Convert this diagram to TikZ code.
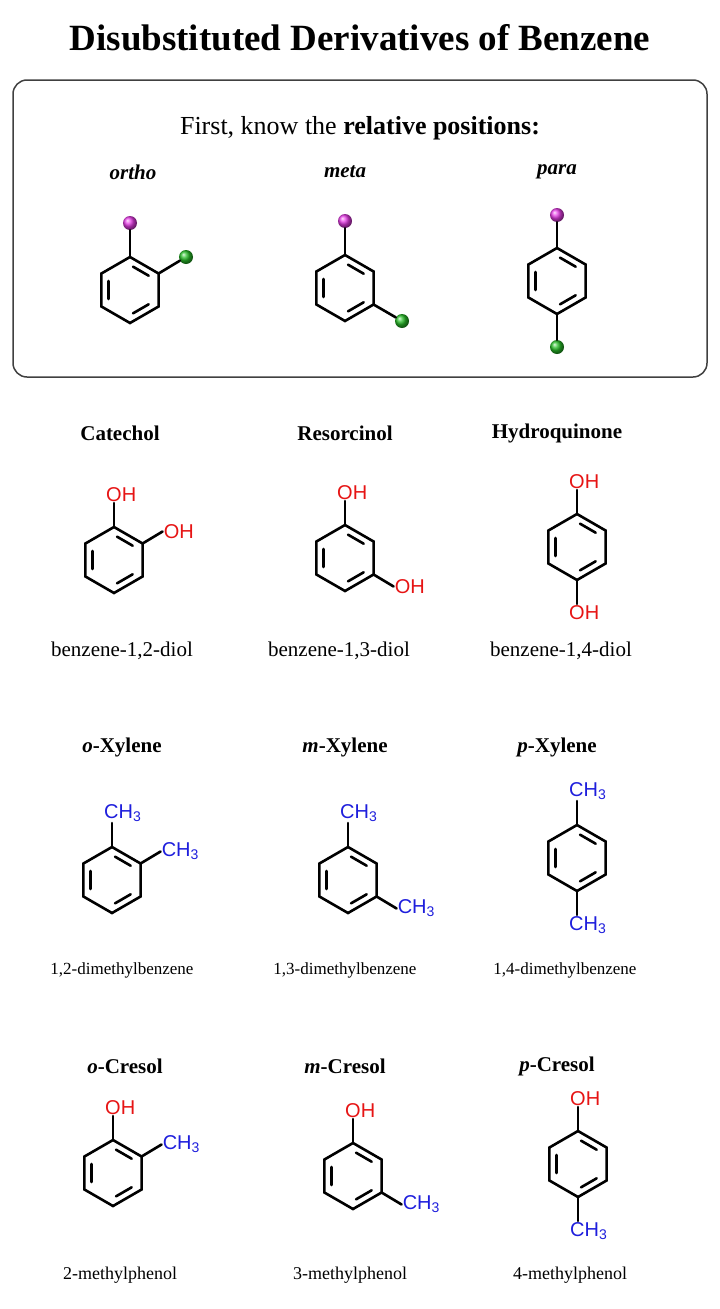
\documentclass[tikz,border=0pt]{standalone}
\usepackage{fontspec}
\setmainfont{Liberation Serif}
\newfontfamily\chemfont{Liberation Sans}
\usetikzlibrary{calc}

\definecolor{ohred}{RGB}{230,20,20}
\definecolor{meblue}{RGB}{30,30,220}
\definecolor{pinkball}{RGB}{230,60,230}
\definecolor{greenball}{RGB}{40,190,40}

\tikzset{
	bond/.style={line width=2.6pt, line cap=round, black},
	heading/.style={font=\fontsize{21}{24}\selectfont\bfseries},
	iupac/.style={font=\fontsize{21}{24}\selectfont},
	iupacsmall/.style={font=\fontsize{17}{20}\selectfont},
	ohlabel/.style={font=\chemfont\fontsize{20}{22}\selectfont, text=ohred, inner sep=1pt},
	melabel/.style={font=\chemfont\fontsize{20}{22}\selectfont, text=meblue, inner sep=1pt},
	pinkatom/.style={circle, ball color=pinkball, minimum size=14pt, inner sep=0pt},
	greenatom/.style={circle, ball color=greenball, minimum size=14pt, inner sep=0pt},
}

% benzene ring: name, x, y
\newcommand{\ring}[3]{
	\coordinate (#1) at (#2,#3);
	\foreach \k/\a in {1/90,2/30,3/-30,4/-90,5/-150,6/150}
		\coordinate (#1-\k) at ($(#1)+({33*cos(\a)},{-33*sin(\a)})$);
	\draw[bond] (#1-1) -- (#1-2) -- (#1-3) -- (#1-4) -- (#1-5) -- (#1-6) -- cycle;
	\foreach \p/\q in {1/2,3/4,5/6}
		\draw[bond] ($($(#1)!0.76!(#1-\p)$)!0.14!($(#1)!0.76!(#1-\q)$)$)
			-- ($($(#1)!0.76!(#1-\q)$)!0.14!($(#1)!0.76!(#1-\p)$)$);
	% bond ends: top, upper right, lower right, bottom
	\coordinate (#1-t) at ($(#1-1)+(0,-24)$);
	\coordinate (#1-ur) at ($(#1-2)+(20,-12)$);
	\coordinate (#1-lr) at ($(#1-3)+(20,12)$);
	\coordinate (#1-b) at ($(#1-4)+(0,24)$);
}

\begin{document}
\begin{tikzpicture}[x=1pt,y=-1pt]
	\useasboundingbox (0,0) rectangle (720,1309);

	\node[font=\fontsize{37}{40}\selectfont\bfseries] (title) at (360,38) {Disubstituted Derivatives of Benzene};

	\draw[line width=1.5pt, rounded corners=14pt, black!75] (13,80) rectangle (707,377);
	\node[font=\fontsize{26}{30}\selectfont] (intro) at (360,128) {First, know the \textbf{relative positions:}};

	\node[heading] (ortho) at (133,172) {\itshape ortho};
	\node[heading] (meta) at (345,172) {\itshape meta};
	\node[heading] (para) at (557,172) {\itshape para};

	% relative positions
	\ring{ro}{130}{290}
	\node[pinkatom] (ro-a) at (130,223) {};
	\node[greenatom] (ro-b) at (186,257) {};
	\draw[bond] (ro-1) -- (ro-a); \draw[bond] (ro-2) -- (ro-b);

	\ring{rm}{345}{288}
	\node[pinkatom] (rm-a) at (345,221) {};
	\node[greenatom] (rm-b) at (402,321) {};
	\draw[bond] (rm-1) -- (rm-a); \draw[bond] (rm-3) -- (rm-b);

	\ring{rp}{557}{281}
	\node[pinkatom] (rp-a) at (557,215) {};
	\node[greenatom] (rp-b) at (557,347) {};
	\draw[bond] (rp-1) -- (rp-a); \draw[bond] (rp-4) -- (rp-b);

	% diols
	\node[heading] (catechol) at (120,433) {Catechol};
	\node[heading] (resorcinol) at (345,433) {Resorcinol};
	\node[heading] (hydroquinone) at (557,433) {Hydroquinone};

	\ring{cat}{114}{560}
	\node[ohlabel, anchor=south west] (cat-oh1) at ($(cat-t)+(-9,0)$) {OH};
	\node[ohlabel, anchor=west] (cat-oh2) at (cat-ur) {OH};
	\draw[bond] (cat-1) -- (cat-t); \draw[bond] (cat-2) -- (cat-ur);

	\ring{res}{345}{558}
	\node[ohlabel, anchor=south west] (res-oh1) at ($(res-t)+(-9,0)$) {OH};
	\node[ohlabel, anchor=west] (res-oh2) at (res-lr) {OH};
	\draw[bond] (res-1) -- (res-t); \draw[bond] (res-3) -- (res-lr);

	\ring{hyd}{577}{547}
	\node[ohlabel, anchor=south west] (hyd-oh1) at ($(hyd-t)+(-9,0)$) {OH};
	\node[ohlabel, anchor=north west] (hyd-oh2) at ($(hyd-b)+(-9,0)$) {OH};
	\draw[bond] (hyd-1) -- (hyd-t); \draw[bond] (hyd-4) -- (hyd-b);

	\node[iupac] (cat-name) at (122,651) {benzene-1,2-diol};
	\node[iupac] (res-name) at (339,651) {benzene-1,3-diol};
	\node[iupac] (hyd-name) at (561,651) {benzene-1,4-diol};

	% xylenes
	\node[heading] (ox) at (122,747) {\itshape o\upshape-Xylene};
	\node[heading] (mx) at (345,747) {\itshape m\upshape-Xylene};
	\node[heading] (px) at (557,747) {\itshape p\upshape-Xylene};

	\ring{oxy}{112}{880}
	\node[melabel, anchor=south west] (oxy-me1) at ($(oxy-t)+(-9,0)$) {CH\textsubscript{3}};
	\node[melabel, anchor=west] (oxy-me2) at (oxy-ur) {CH\textsubscript{3}};
	\draw[bond] (oxy-1) -- (oxy-t); \draw[bond] (oxy-2) -- (oxy-ur);

	\ring{mxy}{348}{880}
	\node[melabel, anchor=south west] (mxy-me1) at ($(mxy-t)+(-9,0)$) {CH\textsubscript{3}};
	\node[melabel, anchor=west] (mxy-me2) at (mxy-lr) {CH\textsubscript{3}};
	\draw[bond] (mxy-1) -- (mxy-t); \draw[bond] (mxy-3) -- (mxy-lr);

	\ring{pxy}{577}{858}
	\node[melabel, anchor=south west] (pxy-me1) at ($(pxy-t)+(-9,0)$) {CH\textsubscript{3}};
	\node[melabel, anchor=north west] (pxy-me2) at ($(pxy-b)+(-9,0)$) {CH\textsubscript{3}};
	\draw[bond] (pxy-1) -- (pxy-t); \draw[bond] (pxy-4) -- (pxy-b);

	\node[iupacsmall] (oxy-name) at (122,970) {1,2-dimethylbenzene};
	\node[iupacsmall] (mxy-name) at (345,970) {1,3-dimethylbenzene};
	\node[iupacsmall] (pxy-name) at (565,970) {1,4-dimethylbenzene};

	% cresols
	\node[heading] (oc) at (125,1066) {\itshape o\upshape-Cresol};
	\node[heading] (mc) at (345,1066) {\itshape m\upshape-Cresol};
	\node[heading] (pc) at (557,1066) {\itshape p\upshape-Cresol};

	\ring{ocr}{113}{1173}
	\node[ohlabel, anchor=south west] (ocr-oh) at ($(ocr-t)+(-9,0)$) {OH};
	\node[melabel, anchor=west] (ocr-me) at (ocr-ur) {CH\textsubscript{3}};
	\draw[bond] (ocr-1) -- (ocr-t); \draw[bond] (ocr-2) -- (ocr-ur);

	\ring{mcr}{353}{1176}
	\node[ohlabel, anchor=south west] (mcr-oh) at ($(mcr-t)+(-9,0)$) {OH};
	\node[melabel, anchor=west] (mcr-me) at (mcr-lr) {CH\textsubscript{3}};
	\draw[bond] (mcr-1) -- (mcr-t); \draw[bond] (mcr-3) -- (mcr-lr);

	\ring{pcr}{578}{1164}
	\node[ohlabel, anchor=south west] (pcr-oh) at ($(pcr-t)+(-9,0)$) {OH};
	\node[melabel, anchor=north west] (pcr-me) at ($(pcr-b)+(-9,0)$) {CH\textsubscript{3}};
	\draw[bond] (pcr-1) -- (pcr-t); \draw[bond] (pcr-4) -- (pcr-b);

	\node[font=\fontsize{18}{20}\selectfont] (ocr-name) at (120,1275) {2-methylphenol};
	\node[font=\fontsize{18}{20}\selectfont] (mcr-name) at (350,1275) {3-methylphenol};
	\node[font=\fontsize{18}{20}\selectfont] (pcr-name) at (570,1275) {4-methylphenol};
\end{tikzpicture}
\end{document}
